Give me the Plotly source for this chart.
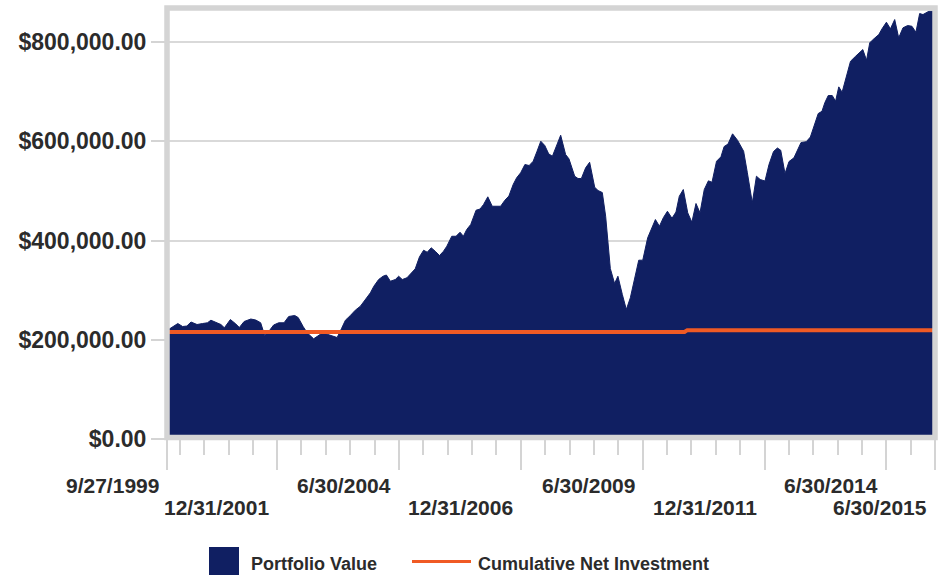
import plotly.graph_objects as go

# ---------------- data ----------------
value_dates = [
    "1999-09-27", "1999-12-17", "2000-01-22", "2000-02-23", "2000-03-25", "2000-05-09",
    "2000-06-19", "2000-07-26", "2000-08-21", "2000-10-05", "2000-11-04", "2000-11-30",
    "2001-01-14", "2001-02-24", "2001-03-22", "2001-04-27", "2001-06-16", "2001-07-23",
    "2001-08-29", "2001-09-28", "2001-10-28", "2001-12-04", "2002-01-11", "2002-02-20",
    "2002-03-27", "2002-05-11", "2002-06-06", "2002-07-13", "2002-08-12", "2002-09-30",
    "2002-11-02", "2002-12-06", "2003-01-15", "2003-02-25", "2003-03-25", "2003-04-26",
    "2003-05-26", "2003-07-02", "2003-08-08", "2003-09-15", "2003-10-11", "2003-11-06",
    "2003-11-29", "2003-12-25", "2004-01-30", "2004-03-03", "2004-03-28", "2004-04-27",
    "2004-06-03", "2004-06-28", "2004-07-25", "2004-08-29", "2004-10-06", "2004-10-30",
    "2004-12-01", "2005-01-01", "2005-01-28", "2005-02-27", "2005-03-29", "2005-04-30",
    "2005-05-30", "2005-06-24", "2005-07-31", "2005-09-01", "2005-10-01", "2005-10-26",
    "2005-11-20", "2005-12-20", "2006-01-29", "2006-02-28", "2006-03-26", "2006-04-27",
    "2006-05-30", "2006-07-02", "2006-08-01", "2006-09-02", "2006-10-02", "2006-11-03",
    "2006-11-29", "2006-12-29", "2007-01-30", "2007-03-03", "2007-04-02", "2007-05-01",
    "2007-05-29", "2007-06-28", "2007-07-27", "2007-08-24", "2007-09-23", "2007-10-25",
    "2007-12-01", "2007-12-26", "2008-02-07", "2008-03-03", "2008-03-28", "2008-04-29",
    "2008-05-29", "2008-07-06", "2008-07-31", "2008-09-01", "2008-09-26", "2008-10-13",
    "2008-10-31", "2008-12-02", "2008-12-27", "2009-01-29", "2009-02-28", "2009-03-30",
    "2009-04-30", "2009-06-01", "2009-07-01", "2009-08-07", "2009-10-04", "2009-11-03",
    "2009-12-03", "2010-01-02", "2010-02-05", "2010-03-07", "2010-04-01", "2010-05-01",
    "2010-06-03", "2010-07-04", "2010-08-04", "2010-09-03", "2010-10-05", "2010-11-05",
    "2010-12-02", "2011-01-05", "2011-02-07", "2011-03-03", "2011-04-01", "2011-05-05",
    "2011-06-11", "2011-07-27", "2011-08-24", "2011-09-30", "2011-10-31", "2011-11-28",
    "2012-01-03", "2012-02-02", "2012-03-07", "2012-04-05", "2012-04-30", "2012-06-01",
    "2012-07-01", "2012-08-07", "2012-09-29", "2012-11-07", "2012-12-08", "2013-01-04",
    "2013-02-05", "2013-03-05", "2013-03-27", "2013-04-21", "2013-05-21", "2013-06-15",
    "2013-07-09", "2013-08-03", "2013-09-05", "2013-10-05", "2013-11-12", "2013-12-06",
    "2014-01-05", "2014-02-02", "2014-02-26", "2014-03-17", "2014-04-10", "2014-05-05",
    "2014-05-29", "2014-07-01", "2014-07-31", "2014-09-01", "2014-10-01", "2014-11-02",
    "2014-12-07", "2015-01-08", "2015-02-07", "2015-03-07", "2015-04-01", "2015-04-26",
    "2015-05-15", "2015-06-30",
]
portfolio_value = [
    218700, 232800, 226800, 227800, 235900, 230800,
    232800, 234300, 239500, 234300, 230800, 224200,
    240900, 231800, 224800, 236900, 241900, 239900,
    234300, 208700, 216700, 229800, 234300, 234300,
    247000, 249000, 244900, 226800, 214100, 202000,
    207600, 214100, 210700, 206600, 204600, 222200,
    239500, 249000, 259700, 267700, 277800, 287900,
    294700, 308000, 321600, 328200, 330600, 318100,
    321600, 328200, 321600, 325000, 335100, 343100,
    367300, 380600, 376600, 385500, 378600, 369900,
    378600, 388700, 408800, 408800, 416900, 408800,
    422400, 432400, 461300, 463700, 472800, 488300,
    469300, 469300, 469300, 481400, 489900, 513100,
    526600, 536700, 553400, 551400, 560000, 580200,
    600400, 591700, 575000, 570100, 591700, 612500,
    573500, 564900, 529800, 525200, 525200, 546700,
    558000, 507600, 501000, 496900, 449200, 396100,
    343700, 313500, 328200, 291300, 261100, 284700,
    321600, 360500, 360500, 405600, 442500, 429000,
    446500, 459200, 445100, 457600, 489500, 503000,
    456000, 437100, 474800, 456000, 503000, 520500,
    517700, 560000, 568900, 589700, 594700, 615300,
    602400, 580200, 536700, 476200, 529800, 523200,
    520100, 553400, 579600, 586700, 582200, 535200,
    559400, 566900, 597700, 599400, 608800, 632000,
    656200, 660800, 678400, 692500, 692500, 681000,
    710000, 699200, 734800, 761700, 771700, 778600,
    785200, 763700, 798700, 804000, 808800, 815500,
    827000, 840300, 827000, 845700, 808800, 829000,
    833600, 832200, 820100, 857800, 855800, 860400,
    862400, 862800,
]

investment_dates = ["1999-09-27", "2010-05-10", "2010-05-31", "2015-06-30"]
net_investment = [215700, 215700, 219500, 219500]

major_tick_dates = ["1999-09-27", "2001-12-31", "2004-06-30", "2006-12-31",
                    "2009-06-30", "2011-12-31", "2014-06-30", "2015-06-30"]
major_tick_labels = ["9/27/1999", "12/31/2001", "6/30/2004", "12/31/2006",
                     "6/30/2009", "12/31/2011", "6/30/2014", "6/30/2015"]
minor_tick_dates = [
    "1999-12-31", "2000-06-30", "2000-12-31", "2001-06-30",
    "2002-06-30", "2002-12-31", "2003-06-30", "2003-12-31",
    "2004-12-31", "2005-06-30", "2005-12-31", "2006-06-30",
    "2007-06-30", "2007-12-31", "2008-06-30", "2008-12-31",
    "2009-12-31", "2010-06-30", "2010-12-31", "2011-06-30",
    "2012-06-30", "2012-12-31", "2013-06-30", "2013-12-31",
    "2014-12-31",
]
y_tick_values = [0, 200000, 400000, 600000, 800000]
series_names = ["Portfolio Value", "Cumulative Net Investment"]

# ---------------- style ----------------
W, H = 944, 575
L, R, T, B = 167, 9, 8, 136
NAVY = "#101f62"
ORANGE = "#f05a24"
GRAY = "#d4d4d4"
TEXT = "#2b2b2b"
FONT = "Liberation Sans, Arial, sans-serif"

PW = W - L - R
PH = H - T - B


def pxx(px):
    return (px - L) / PW


def pxy(py):
    return (H - B - py) / PH


fig = go.Figure()
fig.add_trace(go.Scatter(
    x=value_dates, y=portfolio_value, mode="lines", fill="tozeroy",
    fillcolor=NAVY, line=dict(color=NAVY, width=1), name=series_names[0],
    showlegend=False,
))
fig.add_trace(go.Scatter(
    x=investment_dates, y=net_investment, mode="lines",
    line=dict(color=ORANGE, width=4), name=series_names[1], showlegend=False,
))

annotations = []
for i, (d, lab) in enumerate(zip(major_tick_dates, major_tick_labels)):
    annotations.append(dict(
        x=d, xref="x", y=0, yref="paper", text=lab, showarrow=False,
        xanchor="right", yanchor="middle", xshift=-6,
        yshift=-46 if i % 2 == 0 else -68,
        font=dict(family=FONT, size=21, color=TEXT, weight="bold"),
    ))

# custom legend
annotations.append(dict(
    x=pxx(249), xref="paper", y=pxy(564), yref="paper", text=series_names[0],
    showarrow=False, xanchor="left", yanchor="middle",
    font=dict(family=FONT, size=18, color=TEXT, weight="bold"),
))
annotations.append(dict(
    x=pxx(476), xref="paper", y=pxy(564), yref="paper", text=series_names[1],
    showarrow=False, xanchor="left", yanchor="middle",
    font=dict(family=FONT, size=18, color=TEXT, weight="bold"),
))

shapes = [
    dict(type="rect", xref="paper", yref="paper", x0=0, x1=1, y0=pxy(437.5), y1=1,
         line=dict(color=GRAY, width=5.5), layer="above"),
    dict(type="rect", xref="paper", yref="paper", x0=pxx(209), x1=pxx(239),
         y0=pxy(582), y1=pxy(547), fillcolor=NAVY, line=dict(width=0)),
    dict(type="line", xref="paper", yref="paper", x0=pxx(412), x1=pxx(471),
         y0=pxy(561.5), y1=pxy(561.5), line=dict(color=ORANGE, width=3)),
]

fig.update_layout(
    width=W, height=H,
    margin=dict(l=L, r=R, t=T, b=B, pad=0),
    paper_bgcolor="white", plot_bgcolor="white",
    showlegend=False,
    annotations=annotations, shapes=shapes,
    font=dict(family=FONT, color=TEXT),
    xaxis=dict(
        type="date", range=["1999-09-27", "2015-06-30"],
        tickmode="array", tickvals=major_tick_dates, showticklabels=False,
        ticks="outside", ticklen=30, tickwidth=2, tickcolor=GRAY,
        minor=dict(tickmode="array", tickvals=minor_tick_dates, ticks="outside",
                   ticklen=15, tickwidth=2, tickcolor=GRAY, showgrid=False),
        showgrid=False, zeroline=False, showline=False, automargin=False,
        fixedrange=True,
    ),
    yaxis=dict(
        range=[0, 869000], tickmode="array", tickvals=y_tick_values,
        tickformat="$,.2f", ticks="outside", ticklen=15, tickwidth=2,
        tickcolor=GRAY, showgrid=True, gridcolor="#d9d9d9", gridwidth=2,
        zeroline=False, showline=False, automargin=False,
        tickfont=dict(family=FONT, size=23, color=TEXT, weight="bold"),
        fixedrange=True,
    ),
)

fig.write_html("out.html")
